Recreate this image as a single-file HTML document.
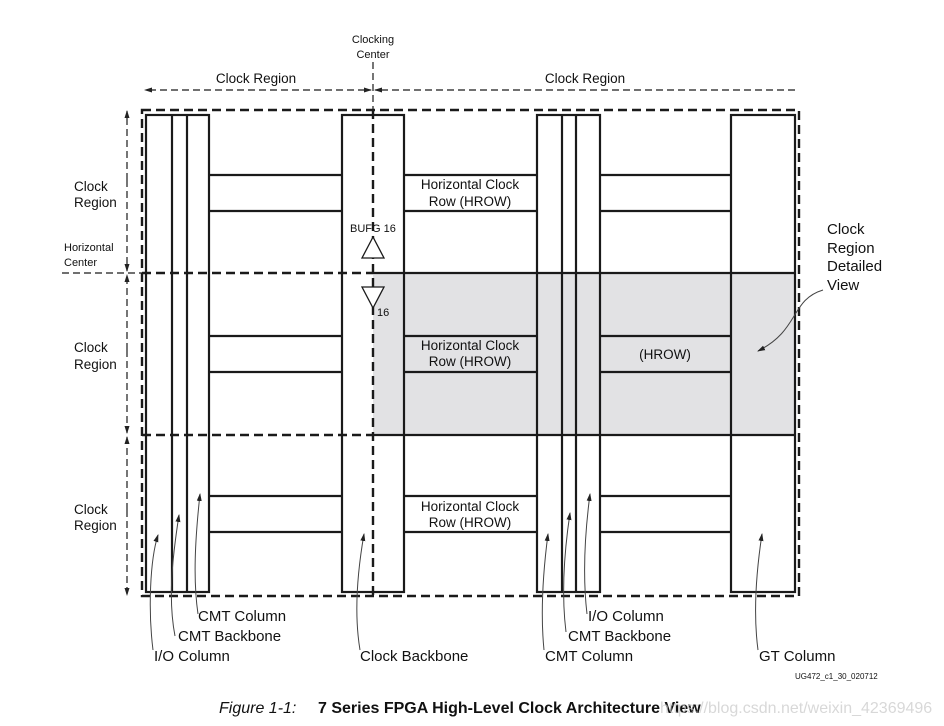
<!DOCTYPE html>
<html><head><style>
html,body{margin:0;padding:0;background:#fff}
svg{display:block;font-family:"Liberation Sans",Arial,sans-serif}
</style></head><body>
<svg width="944" height="726" viewBox="0 0 944 726" xmlns="http://www.w3.org/2000/svg">
<defs>
<marker id="a" markerWidth="8" markerHeight="8" refX="7" refY="4" orient="auto" markerUnits="userSpaceOnUse"><path d="M0,1.5 L8,4 L0,6.5 Z" fill="#222"/></marker>
</defs>
<!-- gray region -->
<rect x="373" y="273" width="422" height="162" fill="#e2e2e4"/>
<g stroke="#1a1a1a" stroke-width="2.2" fill="none">
<!-- left group -->
<rect x="146" y="115" width="63" height="477"/>
<line x1="172" y1="115" x2="172" y2="592"/><line x1="187" y1="115" x2="187" y2="592"/>
<rect x="342" y="115" width="62" height="477"/>
<rect x="537" y="115" width="63" height="477"/>
<line x1="562" y1="115" x2="562" y2="592"/><line x1="576" y1="115" x2="576" y2="592"/>
<rect x="731" y="115" width="64" height="477"/>
<!-- hrows -->
<path d="M209 175H342M209 211H342M404 175H537M404 211H537M600 175H731M600 211H731"/>
<path d="M209 336H342M209 372H342M404 336H537M404 372H537M600 336H731M600 372H731"/>
<path d="M209 496H342M209 532H342M404 496H537M404 532H537M600 496H731M600 532H731"/>
<path d="M373 273H795M373 435H795"/>
</g>
<!-- dashed -->
<g stroke="#1a1a1a" stroke-width="2.4" fill="none" stroke-dasharray="9,5">
<rect x="142" y="110" width="657" height="486"/>
<line x1="142" y1="273" x2="373" y2="273"/>
<line x1="142" y1="435" x2="373" y2="435"/>
<line x1="373" y1="110" x2="373" y2="596"/>
</g>
<g stroke="#1a1a1a" stroke-width="1.2" fill="none" stroke-dasharray="7,4">
<line x1="373" y1="62" x2="373" y2="110"/>
<line x1="62" y1="273" x2="142" y2="273"/>
</g>
<g stroke="#1a1a1a" stroke-width="1.2" fill="none" stroke-dasharray="7,4">
<line x1="365" y1="90" x2="145" y2="90" marker-end="url(#a)"/>
<line x1="365" y1="90" x2="371" y2="90" marker-end="url(#a)"/>
<line x1="381" y1="90" x2="798" y2="90"/>
<line x1="381" y1="90" x2="375" y2="90" marker-end="url(#a)"/>
<line x1="127" y1="180" x2="127" y2="111" marker-end="url(#a)"/>
<line x1="127" y1="180" x2="127" y2="271" marker-end="url(#a)"/>
<line x1="127" y1="350" x2="127" y2="275" marker-end="url(#a)"/>
<line x1="127" y1="350" x2="127" y2="433" marker-end="url(#a)"/>
<line x1="127" y1="510" x2="127" y2="437" marker-end="url(#a)"/>
<line x1="127" y1="510" x2="127" y2="595" marker-end="url(#a)"/>
</g>
<!-- buffers -->
<polygon points="373,237 362,258 384,258" fill="#fff" stroke="#1a1a1a" stroke-width="1.3"/>
<polygon points="362,287 384,287 373,308" fill="#fff" stroke="#1a1a1a" stroke-width="1.3"/>
<!-- callouts -->
<g stroke="#444" stroke-width="1" fill="none">
<path d="M153 650 C148 610,150 560,158 535" marker-end="url(#a)"/>
<path d="M175 636 C168 600,172 560,179 515" marker-end="url(#a)"/>
<path d="M198 614 C193 580,195 540,200 494" marker-end="url(#a)"/>
<path d="M360 650 C355 620,356 580,364 534" marker-end="url(#a)"/>
<path d="M544 650 C541 620,542 580,548 534" marker-end="url(#a)"/>
<path d="M566 632 C562 600,563 560,570 513" marker-end="url(#a)"/>
<path d="M587 614 C583 580,584 540,590 494" marker-end="url(#a)"/>
<path d="M758 650 C754 620,755 580,762 534" marker-end="url(#a)"/>
<path d="M823 290 C790 300,800 330,758 351" marker-end="url(#a)"/>
</g>
<g font-size="13.5" fill="#111">
<text x="373" y="43" text-anchor="middle" font-size="11">Clocking</text>
<text x="373" y="58" text-anchor="middle" font-size="11">Center</text>
<text x="256" y="83" text-anchor="middle">Clock Region</text>
<text x="585" y="83" text-anchor="middle">Clock Region</text>
<text x="74" y="191">Clock</text><text x="74" y="207">Region</text>
<text x="64" y="251" font-size="11">Horizontal</text><text x="64" y="266" font-size="11">Center</text>
<text x="74" y="352">Clock</text><text x="74" y="369">Region</text>
<text x="74" y="514">Clock</text><text x="74" y="530">Region</text>
<text x="470" y="189" text-anchor="middle">Horizontal Clock</text><text x="470" y="206" text-anchor="middle">Row (HROW)</text>
<text x="470" y="350" text-anchor="middle">Horizontal Clock</text><text x="470" y="366" text-anchor="middle">Row (HROW)</text>
<text x="470" y="511" text-anchor="middle">Horizontal Clock</text><text x="470" y="527" text-anchor="middle">Row (HROW)</text>
<text x="665" y="359" text-anchor="middle">(HROW)</text>
<text x="350" y="232" font-size="11">BUFG 16</text>
<text x="377" y="316" font-size="11">16</text>
<g font-size="15"><text x="827" y="234">Clock</text><text x="827" y="253">Region</text><text x="827" y="271">Detailed</text><text x="827" y="290">View</text>
<text x="198" y="621">CMT Column</text><text x="178" y="641">CMT Backbone</text><text x="154" y="661">I/O Column</text>
<text x="360" y="661">Clock Backbone</text>
<text x="588" y="621">I/O Column</text><text x="568" y="641">CMT Backbone</text><text x="545" y="661">CMT Column</text>
<text x="759" y="661">GT Column</text></g>
<text x="795" y="679" font-size="8">UG472_c1_30_020712</text>
<text x="219" y="713" font-size="16" font-style="italic">Figure 1-1:</text>
<text x="318" y="713" font-size="16" font-weight="bold">7 Series FPGA High-Level Clock Architecture View</text>
</g>
<text x="660" y="713" font-size="16" fill="#c8c8c8" opacity="0.7">https://blog.csdn.net/weixin_42369496</text>
</svg>
</body></html>
